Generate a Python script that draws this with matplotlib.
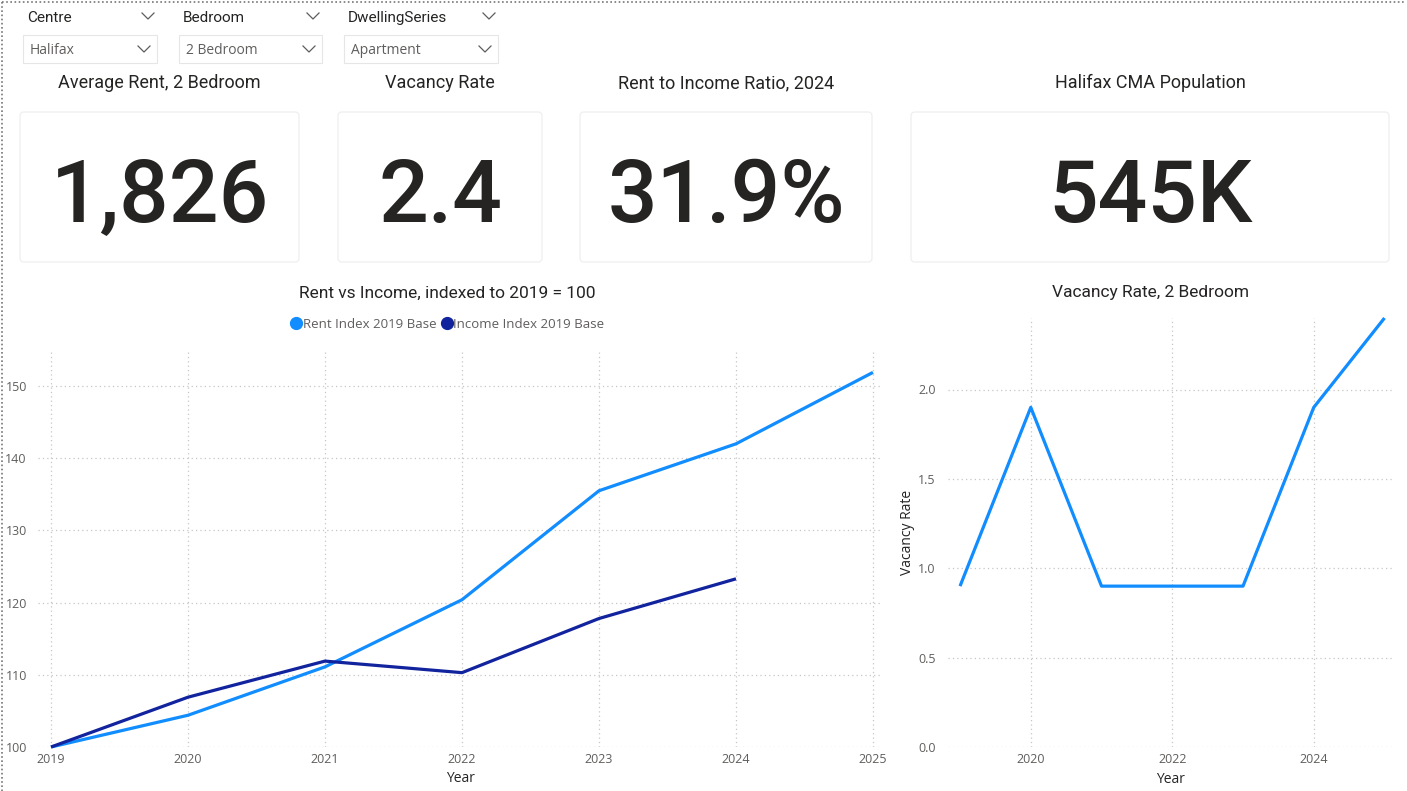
import matplotlib
matplotlib.use("Agg")
import matplotlib.pyplot as plt
from matplotlib.patches import FancyBboxPatch, Rectangle
from matplotlib.lines import Line2D

# data
years = [2019, 2020, 2021, 2022, 2023, 2024, 2025]
rent_index = [100, 104.4, 111.1, 120.4, 135.5, 142.0, 151.9]
income_years = [2019, 2020, 2021, 2022, 2023, 2024]
income_index = [100, 106.9, 111.9, 110.3, 117.8, 123.3]
vacancy_rate = [0.9, 1.9, 0.9, 0.9, 0.9, 1.9, 2.4]

slicer_titles = ["Centre", "Bedroom", "DwellingSeries"]
slicer_values = ["Halifax", "2 Bedroom", "Apartment"]

kpi_titles = ["Average Rent, 2 Bedroom", "Vacancy Rate", "Rent to Income Ratio, 2024", "Halifax CMA Population"]
kpi_values = ["1,826", "2.4", "31.9%", "545K"]

W, H = 1407, 791
DARK = "#252423"
GREY = "#605E5C"
RENT_C = "#118DFF"
INC_C = "#12239E"
GRID_C = "#C8C6C4"


def box(l, t, r, b):
    # pixel box -> figure fraction
    return [l / W, 1 - b / H, (r - l) / W, (b - t) / H]


fig = plt.figure(figsize=(W / 100, H / 100), dpi=100)
fig.patch.set_facecolor("white")

# overlay in pixel coords for slicers, cards, titles
ov = fig.add_axes([0, 0, 1, 1])
ov.set_xlim(0, W)
ov.set_ylim(H, 0)
ov.axis("off")

# dotted canvas border
ov.plot([2, W - 2], [2, 2], color="#777777", lw=1.2, ls=(0, (1, 1.5)))
ov.plot([2, 2], [2, H], color="#777777", lw=1.2, ls=(0, (1, 1.5)))


def chevron(x, y, c=GREY):
    ov.plot([x - 6, x, x + 6], [y - 3, y + 3, y - 3], color=c, lw=0.9)


# slicers
slicer_x = [(23, 157), (179, 322), (344, 498)]
for (l, r), title, val in zip(slicer_x, slicer_titles, slicer_values):
    ov.text(l + 4, 18, title, fontsize=11, family="Roboto", color=DARK, va="center", ha="left")
    chevron(r - 9, 16)
    ov.add_patch(Rectangle((l, 35), r - l, 28, fill=False, ec="#E6E6E6", lw=0.8))
    ov.text(l + 7, 50, val, fontsize=10, family="Open Sans", color=GREY, va="center", ha="left")
    chevron(r - 13, 49)

# KPI cards
cards = [(20, 299), (338, 542), (580, 872), (911, 1389)]
for (l, r), title, val in zip(cards, kpi_titles, kpi_values):
    cx = (l + r) / 2
    ov.text(cx, 83, title, fontsize=13, family="Roboto", color=DARK, ha="center", va="center")
    ov.add_patch(FancyBboxPatch((l, 112), r - l, 150, boxstyle="round,pad=0,rounding_size=4",
                                fill=False, ec="#F0EFEE", lw=0.9))
    ov.text(cx, 198, val, fontsize=63, family="Roboto", fontweight="medium", color=DARK,
            ha="center", va="center")

# chart titles
ov.text(447, 293, "Rent vs Income, indexed to 2019 = 100", fontsize=12.5, family="Roboto",
        color=DARK, ha="center", va="center")
ov.text(1150, 293, "Vacancy Rate, 2 Bedroom", fontsize=12.5, family="Roboto",
        color=DARK, ha="center", va="center")


def style(ax):
    for s in ax.spines.values():
        s.set_visible(False)
    ax.set_facecolor("none")
    ax.grid(True, color=GRID_C, ls=(0, (1, 2.5)), lw=0.9)
    ax.set_axisbelow(True)
    ax.tick_params(length=0, labelsize=9, labelcolor=GREY)
    for lab in ax.get_xticklabels() + ax.get_yticklabels():
        lab.set_family("Open Sans")


# left chart
ax1 = fig.add_axes(box(38, 350, 882, 747))
ax1.plot(years, rent_index, color=RENT_C, lw=2.3, clip_on=False, solid_capstyle="butt")
ax1.plot(income_years, income_index, color=INC_C, lw=2.3, clip_on=False, solid_capstyle="butt")
ax1.set_xlim(2018.905, 2025.066)
ax1.set_ylim(100, 155)
ax1.set_xticks(years)
ax1.set_yticks([100, 110, 120, 130, 140, 150])
style(ax1)
ax1.tick_params(axis="x", pad=4)
ax1.tick_params(axis="y", pad=8)
ax1.set_xlabel("Year", fontsize=10, family="Open Sans", color=DARK)
ax1.xaxis.set_label_coords(0.5, -0.08)
ax1.xaxis.label.set_va("center")

handles = [Line2D([], [], ls="", marker="o", ms=8.5, color=RENT_C),
           Line2D([], [], ls="", marker="o", ms=8.5, color=INC_C)]
fig.legend(handles, ["Rent Index 2019 Base", "Income Index 2019 Base"], loc="center",
           bbox_to_anchor=(447 / W, 1 - 324 / H), ncol=2, frameon=False,
           handletextpad=0.0, columnspacing=0.3, handlelength=1.0,
           prop={"family": "Open Sans", "size": 9.5}, labelcolor=GREY)

# right chart
ax2 = fig.add_axes(box(948, 318, 1392, 747))
ax2.plot(years, vacancy_rate, color=RENT_C, lw=2.3, clip_on=False, solid_capstyle="butt")
ax2.set_xlim(2018.83, 2025.106)
ax2.set_ylim(0, 2.4)
ax2.set_xticks([2020, 2022, 2024])
ax2.set_yticks([0.0, 0.5, 1.0, 1.5, 2.0])
ax2.set_yticklabels(["0.0", "0.5", "1.0", "1.5", "2.0"])
style(ax2)
ax2.tick_params(axis="x", pad=4)
ax2.tick_params(axis="y", pad=9)
ax2.set_xlabel("Year", fontsize=10, family="Open Sans", color=DARK)
ax2.xaxis.set_label_coords(0.5, -0.075)
ax2.xaxis.label.set_va("center")
ax2.set_ylabel("Vacancy Rate", fontsize=10, family="Open Sans", color=DARK)
ax2.yaxis.set_label_coords(-0.092, 0.5)
ax2.yaxis.label.set_va("center")

fig.savefig("out.png", dpi=100, facecolor="white")
